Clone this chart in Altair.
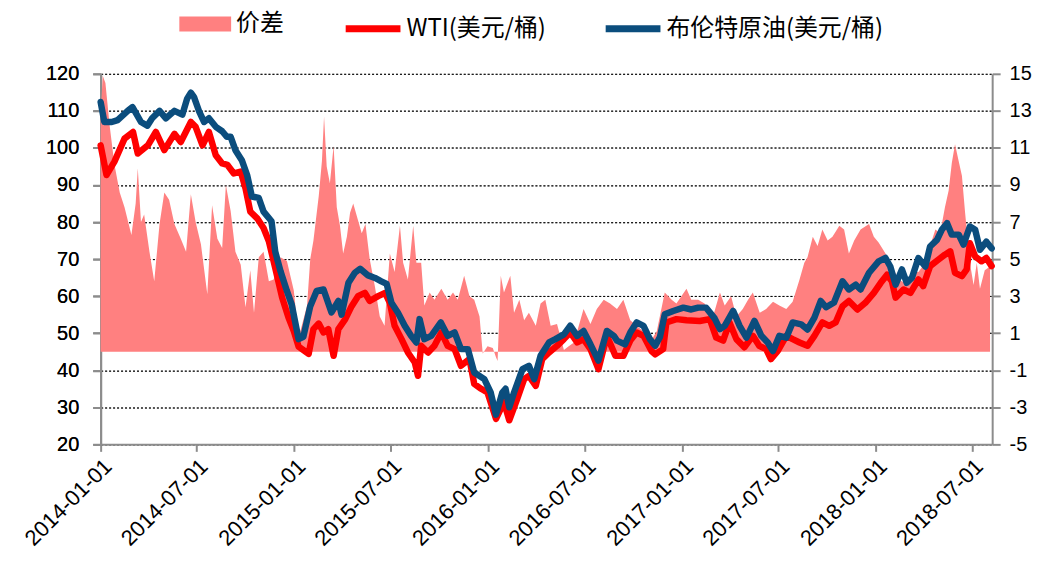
import altair as alt
import pandas as pd

# ---- data (days since 2014-01-01) ----
brent_days = [0,7,21,32,51,60,76,88,97,111,
              123,139,154,163,170,176,186,195,204,217,
              229,238,245,254,266,276,285,298,307,322,
              329,339,351,360,373,382,395,407,420,435,
              448,454,467,479,489,504,517,529,539,548,
              560,573,585,595,601,610,623,641,654,667,
              679,692,704,723,735,745,757,763,770,779,
              795,807,817,829,845,857,873,885,898,910,
              923,938,954,967,973,988,998,1010,1023,1035,
              1045,1054,1063,1079,1098,1113,1126,1141,1157,1167,
              1176,1192,1204,1217,1232,1245,1257,1267,1279,1292,
              1304,1320,1332,1345,1357,1367,1382,1398,1410,1423,
              1432,1448,1466,1479,1488,1498,1510,1519,1529,1541,
              1554,1563,1576,1585,1595,1604,1617,1626,1638,1648,
              1657,1669,1679]
brent_vals = [112.4,107,107,107.5,110,111,107,106,108,110,
              108,110,109,113.3,114.9,113.7,109.7,107,108,105.7,
              104.5,103,103,99.4,96.7,92.7,86.9,86.5,82.8,80.2,
              72,66.7,61.4,57.8,48.4,49,57.3,61.4,61.8,55.6,
              58.7,55,63.6,66.3,67.4,65.6,64.9,64,63.3,58.2,
              55.6,52,49.3,47.5,53.8,48.4,49.3,52.9,49.3,50.2,
              45.7,45.7,39.4,37.6,34,28,34,35,30,34,
              40.3,41.2,37.6,43.9,47.5,48.4,49.7,52,49.3,50.6,
              47,42.6,50.6,49.3,48,47,50.2,52.9,52,48.4,
              46.6,49,55.1,56,56.9,56.4,56.9,56.9,54,51.1,
              52,56,52,48.8,53.3,49.3,47.5,45.2,49.3,48.8,
              52.9,52.4,51,54.2,58.7,57,58.3,64,61.8,63.1,
              61.8,66.3,69.4,70.3,68,63.1,67.2,63.6,65,70.3,
              68,73.4,75.2,77.9,79.7,76.6,76.6,73.9,78.8,77.9,
              72.5,74.7,72.9]

wti_days = [0,11,26,45,61,70,89,104,120,139,
            151,170,179,192,204,217,229,239,251,264,
            273,282,295,307,317,329,342,354,364,373,
            392,401,411,420,429,439,448,461,473,485,
            498,507,523,536,545,554,567,579,592,598,
            604,617,629,642,654,667,679,695,704,717,
            729,745,760,770,785,798,807,820,832,845,
            860,873,885,898,910,923,938,954,970,985,
            998,1010,1023,1038,1045,1060,1066,1085,1104,1129,
            1148,1160,1173,1185,1198,1213,1229,1241,1254,1263,
            1276,1292,1304,1317,1332,1345,1360,1373,1385,1398,
            1410,1426,1441,1457,1470,1482,1491,1498,1513,1526,
            1541,1550,1563,1579,1591,1601,1610,1623,1632,1638,
            1648,1660,1669,1679]
wti_vals = [100.7,92.7,96.3,102.5,104.3,98.5,100.7,104.3,99.4,103.8,
            101.6,107,105.7,100.7,104.3,98,95.8,95.4,93.1,93.6,
            89.1,82.8,81,78.4,74.8,67.6,59.6,54.2,50.6,46.4,
            44.4,51.1,52.6,50.2,51.1,43.9,51.1,53.8,57.3,60,
            60.9,58.7,60,60.9,58.2,52,48.4,44.8,42.1,38.5,
            46.6,44.8,46.6,50.2,46.6,45.7,41.2,43,36.3,35,
            34,26.9,31.4,26.5,32.3,37.6,38.5,35.8,43,44.8,
            46.6,48.4,50.2,47.5,48.4,45.7,40.3,49.3,43.9,43.9,
            48,50.2,49.3,45.2,44.3,45.7,52.9,53.8,53.5,53.3,
            53.8,48.8,48,52.9,48.4,46.2,49.3,46.6,45.7,43,
            45.2,49.3,48.4,47.5,46.6,49.3,52.9,52,52.9,57.3,
            58.7,56.4,58.2,60.9,63.6,65.8,64,59.6,61.8,60.9,
            64.5,62.7,68.1,69.9,71.2,72.1,66.3,65.4,67.2,74.3,
            70.7,69.4,70.3,68.1]

spread_days = [0,4,9,17,26,36,45,58,66,70,
               76,82,92,101,111,120,129,139,151,161,
               170,179,189,201,210,220,229,236,245,254,
               264,273,282,289,298,307,317,326,339,351,
               364,373,379,389,395,401,411,417,421,426,
               432,439,445,451,457,464,470,476,485,492,
               499,507,517,526,535,545,554,564,570,579,
               589,595,604,610,620,629,642,654,664,673,
               685,695,704,714,720,729,739,745,748,754,
               760,772,779,789,798,807,820,829,838,848,
               860,873,882,892,910,923,935,948,960,973,
               985,998,1010,1023,1035,1048,1063,1076,1085,1104,
               1113,1126,1138,1154,1167,1176,1188,1198,1210,1220,
               1229,1242,1254,1267,1279,1292,1304,1317,1326,1332,
               1342,1351,1360,1370,1379,1392,1401,1410,1420,1432,
               1448,1457,1466,1479,1491,1504,1516,1529,1541,1554,
               1563,1573,1582,1591,1598,1604,1610,1616,1623,1629,
               1638,1645,1651,1657,1666,1676]
spread_vals = [12.8,14.9,14.5,12.2,10.1,8.6,7.8,6.3,8.0,9.9,
               7.0,7.4,5.4,3.8,6.9,8.6,8.2,6.9,6.1,5.4,
               8.5,7.0,5.8,3.1,7.9,6.1,5.6,9.0,7.6,5.4,
               4.7,2.4,4.4,2.1,5.1,5.4,3.8,3.9,5.1,4.9,
               3.3,0.8,1.4,2.5,5.0,6.0,8.4,10.3,12.7,10.0,
               9.1,11.1,7.8,6.8,5.3,6.2,7.5,8.0,7.1,6.4,
               6.9,5.0,3.5,1.9,1.4,5.3,4.3,6.8,4.8,3.9,
               6.8,4.8,4.8,2.5,3.2,2.8,3.4,2.8,3.2,2.8,
               4.1,3.0,2.8,1.9,-0.1,0.3,0.2,-0.3,-0.5,4.1,
               3.2,4.1,2.1,2.8,1.7,2.1,1.4,2.6,2.8,1.4,
               1.5,0.1,0.3,0.5,2.3,1.5,2.3,2.8,2.6,2.3,
               2.8,1.7,1.4,1.1,0.5,1.1,3.2,2.8,2.6,3.4,
               2.8,2.8,2.6,1.9,3.2,2.5,3.0,1.9,2.3,2.8,
               3.2,2.1,2.3,2.7,2.5,2.3,2.7,3.9,4.8,5.1,
               6.2,5.7,6.6,6.0,6.2,6.8,6.6,5.3,6.0,6.6,
               6.9,6.2,5.9,5.3,4.6,3.9,3.7,4.3,4.3,4.8,
               5.7,6.6,6.4,7.8,8.7,10.2,11.2,10.4,9.5,7.5,
               4.8,3.6,4.8,3.4,4.4,4.6]

series_names = ["价差", "WTI(美元/桶)", "布伦特原油(美元/桶)"]
series_colors = ["#FF8080", "#FF0000", "#0B4D7D"]
tick_years_months = [(2014, 1), (2014, 7), (2015, 1), (2015, 7), (2016, 1),
                     (2016, 7), (2017, 1), (2017, 7), (2018, 1), (2018, 7)]
left_ticks = list(range(20, 121, 10))
right_ticks = list(range(-5, 16, 2))

start = pd.Timestamp("2014-01-01")


def to_dates(days):
    return [(start + pd.Timedelta(days=d)).strftime("%Y-%m-%d") for d in days]


spread_df = pd.DataFrame({"date": to_dates(spread_days), "spread": spread_vals,
                          "name": series_names[0]})
wti_df = pd.DataFrame({"date": to_dates(wti_days), "price": wti_vals,
                       "series": series_names[1]})
brent_df = pd.DataFrame({"date": to_dates(brent_days), "price": brent_vals,
                         "series": series_names[2]})

FONT = "Liberation Sans"
CJK = "Noto Sans CJK SC"

x_enc = alt.X(
    "date:T",
    scale=alt.Scale(type="utc", nice=False,
                    domain=[alt.DateTime(year=2014, month=1, date=1, utc=True),
                            alt.DateTime(year=2018, month=8, date=8, utc=True)]),
    axis=alt.Axis(values=[alt.DateTime(year=y, month=m, date=1, utc=True)
                          for y, m in tick_years_months],
                  labelExpr="utcFormat(datum.value, '%Y-%m-%d')",
                  labelAngle=-45, title=None, grid=False,
                  labelOverlap=False, labelFlush=False, labelBound=False,
                  tickSize=7, labelPadding=4, labelFontSize=22),
)

area = alt.Chart(spread_df).mark_area(opacity=1, interpolate="linear").encode(
    x=x_enc,
    y=alt.Y("spread:Q",
            scale=alt.Scale(domain=[-5, 15], nice=False, zero=False),
            axis=alt.Axis(orient="right", values=right_ticks, grid=False, title=None,
                          labelExpr="'' + datum.value", tickSize=8, labelPadding=9)),
    y2=alt.datum(0),
    fill=alt.Fill("name:N",
                  scale=alt.Scale(domain=series_names[:1], range=series_colors[:1]),
                  legend=alt.Legend(orient="none", legendX=92, legendY=-63, title=None,
                                    symbolType="M-2,-0.58H2V0.58H-2Z", symbolSize=676,
                                    symbolStrokeWidth=0, symbolOpacity=1,
                                    labelFont=CJK, labelFontSize=24, labelOffset=18,
                                    labelLimit=0, padding=0)),
)

line_color = alt.Color(
    "series:N",
    scale=alt.Scale(domain=series_names[1:], range=series_colors[1:]),
    legend=alt.Legend(orient="none", legendX=256, legendY=-63, title=None,
                      direction="horizontal", symbolType="M-2,0H2", symbolSize=756,
                      symbolStrokeWidth=7, labelFont=CJK, labelFontSize=24,
                      labelOffset=16, columnPadding=45, labelLimit=0, padding=0),
)

y_left = alt.Y("price:Q",
               scale=alt.Scale(domain=[20, 120], nice=False, zero=False),
               axis=alt.Axis(orient="left", values=left_ticks, grid=True, title=None,
                             gridDash=[2, 2], gridColor="#000000", gridOpacity=0.85,
                             gridWidth=1, tickSize=8, labelPadding=14, zindex=0))

wti = alt.Chart(wti_df).mark_line(strokeWidth=6.5, strokeCap="round", strokeJoin="round").encode(
    x=x_enc, y=y_left, color=line_color)
brent = alt.Chart(brent_df).mark_line(strokeWidth=6.5, strokeCap="round", strokeJoin="round").encode(
    x=x_enc, y=y_left, color=line_color)

chart = alt.layer(area, wti, brent).resolve_scale(
    y="independent"
).properties(
    width=895, height=372,
    padding={"left": 93, "top": 65, "right": 44, "bottom": 112},
    autosize=alt.AutoSizeParams(type="none"),
    background="white",
).configure_axis(
    domainColor="#8C8C8C", domainWidth=2, tickColor="#8C8C8C", tickWidth=2,
    labelFont=FONT, labelFontSize=20, labelColor="#000000", zindex=0,
).configure_view(stroke=None)

chart.save("out.html", embed_options={"renderer": "svg", "actions": False})
